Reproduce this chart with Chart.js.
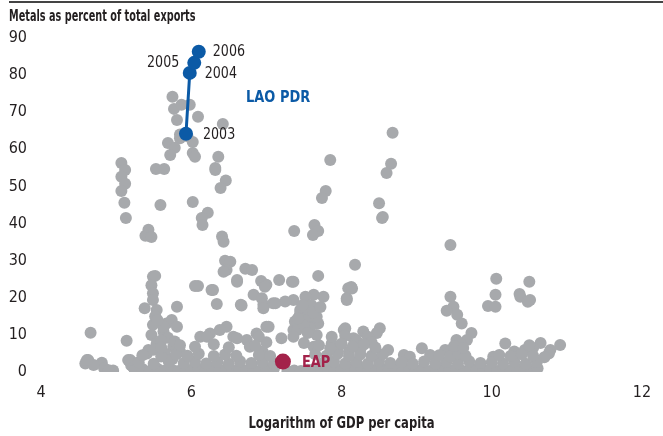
<!DOCTYPE html>
<html>
<head>
<meta charset="utf-8">
<script src="https://cdn.jsdelivr.net/npm/chart.js@4.4.1/dist/chart.umd.min.js"></script>
<style>
  html, body { margin: 0; padding: 0; background: #fff; }
  #wrap { width: 663px; height: 436px; }
</style>
</head>
<body>
<div id="wrap"><canvas id="chart" width="663" height="436"></canvas></div>
<script>
// Lao PDR path, 2003-2006
var laoYears = ['2003', '2004', '2005', '2006'];
var laoGdp = [5.93, 5.98, 6.04, 6.10];
var laoMetals = [64.2, 80.6, 83.3, 86.3];

// East Asia & Pacific average
var eapGdp = 7.22;
var eapMetals = 2.8;

// other countries: [log GDP per capita, metals % of exports]
var upperPoints = [
  [5.75,74.2],[5.77,70.9],[5.87,72],[5.98,72],[5.81,67.9],[6.09,68.8],[6.42,66.8],
  [5.85,63],[6.02,62],[5.69,61.7],[5.78,60.4],[5.72,58.5],[6.02,59],[6.05,58],[6.36,58],
  [5.07,56.3],[5.12,54.4],[5.07,52.6],[5.12,50.7],[5.07,48.8],[5.11,45.6],[5.13,41.5],
  [5.53,54.7],[5.64,54.7],[5.59,45],[6.32,54.4],[6.32,55],[6.46,51.6],[6.39,49.6],
  [6.02,45.8],[6.22,42.9],[6.14,41.5],[6.15,39.6],[5.43,38.3],[5.39,36.7],[5.47,36.4],
  [6.41,36.5],[6.43,35.1],[7.37,38],[7.64,39.6],[7.69,38],[7.62,36.9],[7.79,48.8],
  [7.74,46.9],[7.85,57.1],[8.66,56.1],[8.6,53.6],[8.5,45.5],[8.55,41.8],[8.54,41.5],
  [9.45,34.2],[8.68,64.5],[5.85,64],[5.95,63.5]
];
var midPoints = [
  [6.45,30],[6.52,29.7],[6.47,27.5],[6.43,27],[6.72,27.8],[6.81,27.5],[6.61,24.8],
  [7.69,25.9],[6.93,24.5],[7.0,23.5],[7.17,24.8],[7.34,24.3],[6.09,23.2],[6.05,23.2],
  [6.29,22.1],[5.49,25.7],[5.52,25.9],[5.47,23.4],[5.49,21.2],[5.49,19.4],[5.38,17.2],
  [5.54,16.7],[5.81,17.6],[6.27,22.1],[8.09,22.6],[8.13,22.9],[8.18,28.9],[8.07,19.9],
  [8.07,19.4],[10.06,25.1],[10.5,24.3],[10.05,20.8],[10.37,21],[9.45,20.3],[9.49,17.6],
  [9.4,16.5],[9.54,15.4],[9.6,13.1],[9.95,17.8],[10.05,17.6],[10.38,20.3],[10.48,18.9],
  [10.51,19.4],[6.34,18.3],[6.66,18.1],[6.61,24.3],[6.83,20.8],[6.94,19.9],[6.96,18.1],
  [7.09,18.5],[7.36,19.4],[7.36,24.3],[7.63,20.8],[7.52,20.3],[7.76,20.3],[7.25,19],
  [7.12,18.5],[6.67,17.9],[6.96,17.2],[6.98,23],[5.49,12.7],[5.47,10],[5.67,13.1],
  [5.74,14],[5.81,12.2],[5.63,10.9],[5.63,12.2],[5.52,15],[5.55,14],[6.25,10.4],
  [6.47,12.2],[6.38,11.3],[7.0,12.2],[7.03,12.2],[6.87,10.4],[7.45,15.8],[7.58,14.5],
  [7.69,13.1],[7.36,11.3],[7.67,10],[7.45,16.7],[7.54,14.9],[7.67,14.9],[7.38,13.6],
  [7.41,11.3],[7.58,11.8],[8.03,11.3],[8.51,11.8],[8.47,10.5],[8.05,11.8],[8.29,10.9],
  [8.14,22.5],[9.73,10.5],[4.66,10.6],[7.55,17],[7.6,18],[7.48,18],[7.5,12.5],
  [7.62,16],[7.72,17.5],[7.42,14.5],[7.55,10.5]
];
var basePoints = [
  [5.14,8.4],[5.54,7.7],[5.69,9.2],[5.76,6.8],[5.78,8.2],[6.12,9.5],[5.41,5],[5.19,3.2],
  [5.2,1.8],[4.63,3.2],[4.59,2.3],[4.81,2.5],[4.84,1],[4.96,0.4],[4.9,0.5],[4.7,1.9],
  [4.61,3.2],[5.16,3.2],[5.23,1.3],[5.43,5.9],[6.21,9.5],[6.56,9.5],[6.74,8.6],[6.78,6.8],
  [7.2,9.1],[7.87,7.7],[8.16,9.1],[6.61,9.1],[7.63,6.8],[7.89,6.8],[7.87,9.5],[7.36,9.5],
  [9.67,8.6],[9.53,8.6],[9.58,7.7],[10.18,7.7],[10.65,7.8],[10.91,7.3],[10.78,5.9],
  [10.76,5],[9.07,6.4],[9.38,5.9],[8.62,5.9],[10.44,5.9],[10.02,4.1],[8.83,4.6],[8.91,4.1],
  [9.18,4.6],[9.46,6],[9.5,5],[9.6,4.5],[10.3,5.5],[10.55,6.5],[10.7,4],
  [8.1,5.5],[8.2,8.5],[8.35,9.5],[8.25,6],[8.4,8],[7.95,5.5],[8.05,9.8],
  [5.5,6],[5.65,5],[5.75,3.5],[5.85,5.5],[5.6,8.5],[6.95,5.5],[7.0,8],[6.9,9.5],
  // bottom band
  [5.25,0.5],[5.35,0.8],[5.45,0.3],[5.55,0.9],[5.65,0.4],[5.74,0.7],[5.83,0.3],[5.92,1.0],
  [6.0,0.5],[6.1,0.8],[6.19,0.3],[6.28,0.9],[6.37,0.5],[6.46,0.7],[6.55,0.3],[6.64,1.0],
  [6.73,0.4],[6.82,0.8],[6.91,0.3],[7.0,0.6],[7.1,0.9],[7.28,0.2],[7.37,0.4],[7.46,0.3],
  [7.55,0.6],[7.64,0.9],[7.73,0.4],[7.82,0.8],[7.91,0.3],[8.0,0.7],[8.09,1.0],[8.18,0.4],
  [8.27,0.8],[8.36,0.3],[8.45,0.6],[8.54,0.9],[8.63,0.4],[8.72,0.7],[8.81,0.3],[8.9,0.9],
  [8.99,0.5],[9.08,0.8],[9.17,0.3],[9.26,0.7],[9.35,1.0],[9.44,0.4],[9.53,0.8],[9.62,0.3],
  [9.71,0.6],[9.8,0.9],[9.89,0.4],[9.98,0.7],[10.07,0.3],[10.16,0.9],[10.25,0.5],
  [10.34,0.8],[10.43,0.3],[10.52,0.7],[10.61,1.0],
  [5.3,2.6],[5.5,2.2],[5.7,2.9],[5.9,2.4],[6.05,2.8],[6.2,2.3],[6.35,2.7],[6.5,2.2],
  [6.65,2.9],[6.8,2.4],[6.95,2.6],[7.1,2.2],[7.75,2.4],[7.9,2.8],[8.05,2.3],
  [8.2,2.7],[8.35,2.2],[8.5,2.9],[8.65,2.4],[8.8,2.6],[8.95,2.2],[9.1,2.8],[9.25,2.3],
  [9.4,2.7],[9.55,2.2],[9.7,2.9],[9.85,2.4],[10.0,2.6],[10.15,2.3],[10.3,2.8],[10.45,2.2],
  [10.6,2.7],
  [5.35,4.5],[5.6,4.2],[5.8,4.8],[5.95,4.4],[6.1,4.9],[6.3,4.3],[6.45,4.7],[6.6,4.4],
  [6.9,4.6],[7.05,4.3],[7.65,4.8],[7.8,4.4],[7.95,4.9],[8.1,4.3],[8.25,4.7],
  [8.4,4.4],[8.55,4.8],[9.3,4.5],[9.45,4.2],[9.55,4.9],[9.65,4.4],[10.1,4.6],[10.25,4.3],
  [10.4,4.8],[10.55,4.4],
  [5.6,6.6],[5.85,7.2],[6.05,6.8],[6.3,7.5],[6.5,6.7],[6.85,7.1],[7.5,7.8],[7.7,7.2],
  [7.85,6.4],[8.0,7.6],[8.15,6.9],[8.3,7.4],[8.45,6.6],[9.5,7.0],[9.62,6.5],[10.5,7.2]
];

var FONT = '"Liberation Sans Narrow", "DejaVu Sans Condensed", "Arial Narrow", sans-serif';
var INK = '#231f20';
var GREY = '#a7a9ac';
var BLUE = '#0b5aa6';
var RED = '#a3224a';

function toXY(list) {
  return list.map(function (p) { return { x: p[0], y: p[1] }; });
}
var greyData = toXY(upperPoints.concat(midPoints, basePoints));
var laoData = laoGdp.map(function (g, i) { return { x: g, y: laoMetals[i] }; });

// squeezed text, the fallback fonts run wider than a condensed face
function narrowText(ctx, txt, x, y, align, sx) {
  ctx.save();
  ctx.translate(x, y);
  ctx.scale(sx, 1);
  ctx.textAlign = align;
  ctx.fillText(txt, 0, 0);
  ctx.restore();
}

// titles, the rule on top and the text beside the highlighted marks
var notes = {
  id: 'notes',
  afterDatasetsDraw: function (chart) {
    var ctx = chart.ctx;
    var xs = chart.scales.x, ys = chart.scales.y;
    ctx.save();
    ctx.strokeStyle = '#444';
    ctx.lineWidth = 2;
    ctx.beginPath();
    ctx.moveTo(9, 2);
    ctx.lineTo(663, 2);
    ctx.stroke();

    ctx.fillStyle = INK;
    ctx.textBaseline = 'middle';
    ctx.font = 'bold 15px ' + FONT;
    narrowText(ctx, 'Metals as percent of total exports', 9, 17, 'left', 0.72);
    narrowText(ctx, 'Logarithm of GDP per capita', (chart.chartArea.left + chart.chartArea.right) / 2, 424, 'center', 0.86);

    // year labels
    ctx.font = '16px ' + FONT;
    var offs = [[17, 1, 'left'], [15, 1, 'left'], [-15, 0, 'right'], [14, 0, 'left']];
    laoYears.forEach(function (yr, i) {
      narrowText(ctx, yr, xs.getPixelForValue(laoGdp[i]) + offs[i][0], ys.getPixelForValue(laoMetals[i]) + offs[i][1], offs[i][2], 0.88);
    });

    ctx.font = 'bold 16px ' + FONT;
    ctx.fillStyle = BLUE;
    narrowText(ctx, 'LAO PDR', xs.getPixelForValue(6.73), ys.getPixelForValue(74), 'left', 0.9);
    ctx.fillStyle = RED;
    narrowText(ctx, 'EAP', xs.getPixelForValue(eapGdp) + 19, ys.getPixelForValue(eapMetals) + 1, 'left', 0.9);
    ctx.restore();
  }
};

new Chart(document.getElementById('chart').getContext('2d'), {
  type: 'scatter',
  data: {
    datasets: [
      {
        label: 'Lao PDR',
        data: laoData,
        showLine: true,
        borderColor: BLUE,
        borderWidth: 3,
        backgroundColor: BLUE,
        pointRadius: 7,
        pointBorderWidth: 0
      },
      {
        label: 'EAP',
        data: [{ x: eapGdp, y: eapMetals }],
        backgroundColor: RED,
        pointRadius: 8,
        pointBorderWidth: 0
      },
      {
        label: 'Countries',
        data: greyData,
        backgroundColor: GREY,
        pointRadius: 6,
        pointBorderWidth: 0
      }
    ]
  },
  options: {
    responsive: false,
    animation: false,
    layout: { padding: { top: 38, right: 21, left: 0, bottom: 0 } },
    plugins: { legend: { display: false }, tooltip: { enabled: false } },
    scales: {
      x: {
        min: 4, max: 12,
        grid: { display: false, drawTicks: false },
        border: { display: false },
        ticks: { stepSize: 2, padding: 11, color: INK, font: { family: FONT, size: 16 } },
        afterFit: function (s) { s.height = 64; }
      },
      y: {
        min: 0, max: 90,
        grid: { display: false, drawTicks: false },
        border: { display: false },
        ticks: { stepSize: 10, padding: 14, color: INK, font: { family: FONT, size: 16 } },
        afterFit: function (s) { s.width = 41; }
      }
    }
  },
  plugins: [notes]
});
</script>
</body>
</html>
